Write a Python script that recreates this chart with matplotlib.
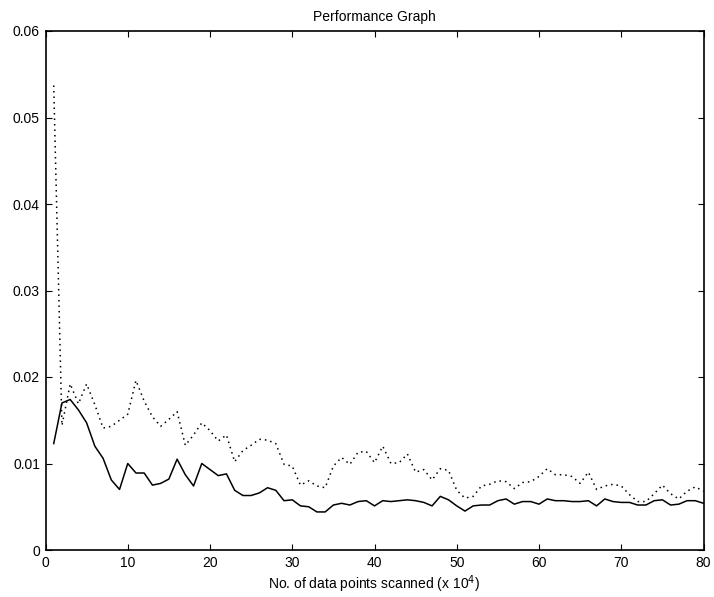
import numpy as np
import matplotlib
matplotlib.use('Agg')
import matplotlib.pyplot as plt

plt.rcParams['font.family'] = ['Liberation Sans', 'DejaVu Sans']

# Data points scanned (x 10^4)
points = np.arange(1, 81)

# solid curve
solid = [0.0123, 0.0170, 0.0174, 0.0162, 0.0147, 0.0120, 0.0106, 0.0081, 0.0070, 0.0100,
         0.0089, 0.0089, 0.0075, 0.0077, 0.0082, 0.0105, 0.0087, 0.0074, 0.0100, 0.0093,
         0.0086, 0.0088, 0.0069, 0.0063, 0.0063, 0.0066, 0.0072, 0.0069, 0.0057, 0.0058,
         0.0051, 0.0050, 0.0044, 0.0044, 0.0052, 0.0054, 0.0052, 0.0056, 0.0057, 0.0051,
         0.0057, 0.0056, 0.0057, 0.0058, 0.0057, 0.0055, 0.0051, 0.0062, 0.0058, 0.0051,
         0.0045, 0.0051, 0.0052, 0.0052, 0.0057, 0.0059, 0.0053, 0.0056, 0.0056, 0.0053,
         0.0059, 0.0057, 0.0057, 0.0056, 0.0056, 0.0057, 0.0051, 0.0059, 0.0056, 0.0055,
         0.0055, 0.0052, 0.0052, 0.0057, 0.0058, 0.0052, 0.0053, 0.0057, 0.0057, 0.0054]

# dotted curve
dotted = [0.0537, 0.0144, 0.0192, 0.0169, 0.0192, 0.0168, 0.0141, 0.0143, 0.0150, 0.0157,
          0.0196, 0.0172, 0.0154, 0.0143, 0.0151, 0.0160, 0.0121, 0.0133, 0.0147, 0.0138,
          0.0126, 0.0133, 0.0102, 0.0115, 0.0121, 0.0128, 0.0127, 0.0123, 0.0099, 0.0097,
          0.0075, 0.0080, 0.0074, 0.0072, 0.0097, 0.0107, 0.0099, 0.0113, 0.0114, 0.0101,
          0.0120, 0.0100, 0.0101, 0.0111, 0.0090, 0.0093, 0.0081, 0.0094, 0.0092, 0.0069,
          0.0060, 0.0062, 0.0074, 0.0076, 0.0080, 0.0079, 0.0071, 0.0078, 0.0079, 0.0085,
          0.0094, 0.0087, 0.0087, 0.0085, 0.0077, 0.0090, 0.0070, 0.0074, 0.0076, 0.0074,
          0.0064, 0.0056, 0.0056, 0.0065, 0.0075, 0.0065, 0.0059, 0.0068, 0.0073, 0.0068]

fig = plt.figure(figsize=(7.14, 5.97), dpi=100)
ax = fig.add_axes([45.5 / 714, 1 - 550 / 597, 658 / 714, 519 / 597])

ax.plot(points, solid, color='black', linewidth=1.1)
ax.plot(points, dotted, color='black', linewidth=1.1, linestyle=(0, (1, 2.6)))

ax.set_xlim(0, 80)
ax.set_ylim(0, 0.06)
ax.set_xticks(np.arange(0, 81, 10))
ax.set_yticks(np.arange(0, 0.061, 0.01))
ax.set_yticklabels(['0', '0.01', '0.02', '0.03', '0.04', '0.05', '0.06'])

ax.tick_params(direction='in', length=4.5, width=0.8, top=True, right=True,
               labelsize=10, pad=4)
for s in ax.spines.values():
    s.set_linewidth(1.2)

ax.set_title('Performance Graph', fontsize=10, pad=7)
ax.set_xlabel('No. of data points scanned (x 10$^4$)', fontsize=10, labelpad=3)

fig.savefig('out.png', dpi=100)
